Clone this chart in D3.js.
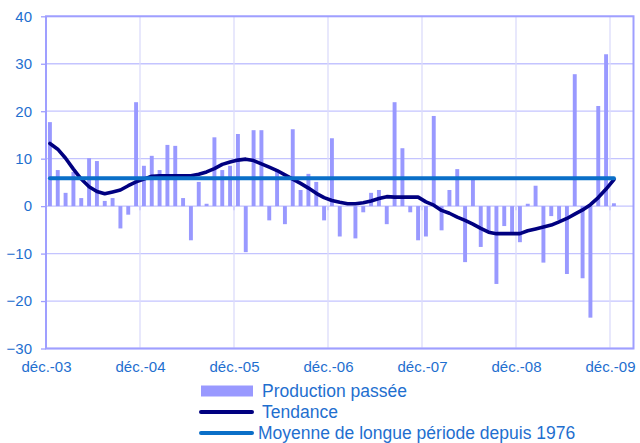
<!DOCTYPE html>
<html><head><meta charset="utf-8">
<script src="https://cdn.jsdelivr.net/npm/d3@7"></script>
<style>
body{margin:0;background:#fff}
svg{display:block}
text{font-family:"Liberation Sans",Arial,sans-serif}
</style>
</head><body>
<svg id="chart" width="640" height="443"></svg>
<script>
const categories = [
 "déc.-03",
 "janv.-04","févr.-04","mars-04","avr.-04","mai-04","juin-04","juil.-04","août-04","sept.-04","oct.-04","nov.-04","déc.-04",
 "janv.-05","févr.-05","mars-05","avr.-05","mai-05","juin-05","juil.-05","août-05","sept.-05","oct.-05","nov.-05","déc.-05",
 "janv.-06","févr.-06","mars-06","avr.-06","mai-06","juin-06","juil.-06","août-06","sept.-06","oct.-06","nov.-06","déc.-06",
 "janv.-07","févr.-07","mars-07","avr.-07","mai-07","juin-07","juil.-07","août-07","sept.-07","oct.-07","nov.-07","déc.-07",
 "janv.-08","févr.-08","mars-08","avr.-08","mai-08","juin-08","juil.-08","août-08","sept.-08","oct.-08","nov.-08","déc.-08",
 "janv.-09","févr.-09","mars-09","avr.-09","mai-09","juin-09","juil.-09","août-09","sept.-09","oct.-09","nov.-09","déc.-09",
 "janv.-10","févr.-10"
];
// Production passée (monthly balance), déc.-03 .. déc.-09
const production = [
 17.7, 7.6, 2.8, 7.2, 1.7, 10.1, 9.5, 1.1, 1.7, -4.7, -1.8, 21.9,
 8.5, 10.6, 7.6, 12.9, 12.7, 1.7, -7.2, 5.1, 0.5, 14.5, 7.6, 8.5,
 15.2, -9.7, 16.0, 16.0, -3.0, 7.6, -3.8, 16.2, 3.4, 6.8, 5.1, -3.0,
 14.3, -6.4, 0, -6.8, -1.3, 2.8, 3.4, -3.8, 21.9, 12.2, -1.3, -7.2,
 -6.4, 19.0, -5.1, 3.4, 7.8, -11.8, 5.6, -8.6, -5.3, -16.4, -4.2, -5.6,
 -7.6, 0.5, 4.3, -11.9, -2.1, -2.9, -14.3, 27.8, -15.2, -23.5, 21.1, 32.0,
 0.6
];
// Tendance
const tendance = [
 13.2, 12.0, 10.1, 7.8, 5.7, 4.1, 3.1, 2.6, 3.0, 3.4, 4.3, 5.1,
 5.7, 6.3, 6.4, 6.4, 6.4, 6.4, 6.4, 6.7, 7.2, 7.9, 8.8, 9.3,
 9.7, 9.9, 9.6, 8.9, 8.2, 7.5, 6.6, 5.7, 4.8, 3.8, 2.7, 1.8,
 1.2, 0.8, 0.5, 0.5, 0.7, 1.1, 1.6, 2.0, 1.9, 1.9, 1.9, 1.9,
 0.9, 0.2, -0.9, -1.5, -2.3, -3.0, -3.8, -4.7, -5.5, -5.8, -5.8, -5.8,
 -5.8, -5.2, -4.8, -4.4, -4.0, -3.3, -2.6, -1.7, -0.8, 0.3, 1.8, 3.6,
 5.6
];
// Moyenne de longue période depuis 1976
const moyenne = 5.9;
const yTicks = [-30, -20, -10, 0, 10, 20, 30, 40];
const xTickLabels = ["déc.-03","déc.-04","déc.-05","déc.-06","déc.-07","déc.-08","déc.-09"];
const legendLabels = ["Production passée", "Tendance", "Moyenne de longue période depuis 1976"];

const colors = {
  bar: "#9999ff", trend: "#000080", mean: "#0a6fc8",
  text: "#1f6fcf", gridH: "#c4c4ff", gridV: "#dcdcfa", frame: "#9f9fff"
};

const svg = d3.select("#chart");
svg.append("rect").attr("width", 640).attr("height", 443).attr("fill", "#fff");

const P = {left: 46, right: 633.5, top: 16.3, bottom: 348.5};

const x = d3.scaleBand().domain(categories).range([P.left, P.right])
  .paddingInner(0.5).paddingOuter(0.25);
const y = d3.scaleLinear().domain([-30, 40]).range([P.bottom, P.top]);
const step = x.step();
const half = step / 2;
const cx = c => x(c) + x.bandwidth() / 2;

// horizontal gridlines
svg.append("g").selectAll("line").data(yTicks).join("line")
  .attr("x1", P.left).attr("x2", P.right)
  .attr("y1", d => y(d)).attr("y2", d => y(d))
  .attr("stroke", colors.gridH).attr("stroke-width", 1.3);

// vertical gridlines at tick labels (between categories)
svg.append("g").selectAll("line").data(xTickLabels.slice(1)).join("line")
  .attr("x1", d => cx(d) - half).attr("x2", d => cx(d) - half)
  .attr("y1", P.top).attr("y2", P.bottom)
  .attr("stroke", colors.gridV).attr("stroke-width", 1.3);

// bars
svg.append("g").selectAll("rect").data(production).join("rect")
  .attr("x", (d, i) => x(categories[i]))
  .attr("width", x.bandwidth())
  .attr("y", d => y(Math.max(0, d)))
  .attr("height", d => Math.abs(y(d) - y(0)))
  .attr("fill", colors.bar);

// small ticks on the zero line
const zeroAxis = svg.append("g")
  .attr("transform", `translate(${-half},${y(0)})`)
  .call(d3.axisBottom(x).tickValues(xTickLabels).tickSize(4).tickFormat(""));
zeroAxis.select(".domain").remove();
zeroAxis.selectAll("line").attr("stroke", colors.gridH).attr("stroke-width", 1.3);

// frame
svg.append("rect")
  .attr("x", P.left).attr("y", P.top)
  .attr("width", P.right - P.left).attr("height", P.bottom - P.top)
  .attr("fill", "none").attr("stroke", colors.frame).attr("stroke-width", 2);

// trend line
svg.append("path").datum(tendance)
  .attr("d", d3.line().x((d, i) => cx(categories[i])).y(d => y(d)))
  .attr("fill", "none").attr("stroke", colors.trend)
  .attr("stroke-width", 3.6).attr("stroke-linejoin", "round").attr("stroke-linecap", "round");

// mean line
svg.append("line")
  .attr("x1", cx(categories[0])).attr("x2", cx(categories[production.length - 1]))
  .attr("y1", y(moyenne)).attr("y2", y(moyenne))
  .attr("stroke", colors.mean).attr("stroke-width", 4).attr("stroke-linecap", "round");

// y axis
const yAxis = svg.append("g")
  .attr("transform", `translate(${P.left},0)`)
  .call(d3.axisLeft(y).tickValues(yTicks).tickSize(5).tickPadding(9).tickFormat(d3.format("d")));
yAxis.select(".domain").remove();
yAxis.selectAll("line").attr("stroke", colors.frame).attr("stroke-width", 1.3);
yAxis.selectAll("text").attr("fill", colors.text).attr("font-size", 15)
  .attr("font-family", '"Liberation Sans", Arial, sans-serif');

// x axis labels (at gridlines)
const xAxis = svg.append("g")
  .attr("transform", `translate(${-half + 0.5},${P.bottom})`)
  .call(d3.axisBottom(x).tickValues(xTickLabels).tickSize(0).tickPadding(13));
xAxis.select(".domain").remove();
xAxis.selectAll("text").attr("fill", colors.text).attr("font-size", 15)
  .attr("font-family", '"Liberation Sans", Arial, sans-serif');

// legend
const lg = svg.append("g");
const rows = [391, 412, 433];
lg.append("rect").attr("x", 201).attr("y", rows[0] - 5.5).attr("width", 52).attr("height", 11).attr("fill", colors.bar);
lg.append("line").attr("x1", 201).attr("x2", 252).attr("y1", rows[1]).attr("y2", rows[1])
  .attr("stroke", colors.trend).attr("stroke-width", 4).attr("stroke-linecap", "round");
lg.append("line").attr("x1", 201).attr("x2", 252).attr("y1", rows[2]).attr("y2", rows[2])
  .attr("stroke", colors.mean).attr("stroke-width", 4).attr("stroke-linecap", "round");
const textX = [262, 262, 258];
lg.selectAll("text").data(legendLabels).join("text")
  .attr("x", (d, i) => textX[i]).attr("y", (d, i) => rows[i])
  .attr("dy", "0.35em").attr("fill", colors.text).attr("font-size", 17.5)
  .text(d => d);
</script>
</body></html>
